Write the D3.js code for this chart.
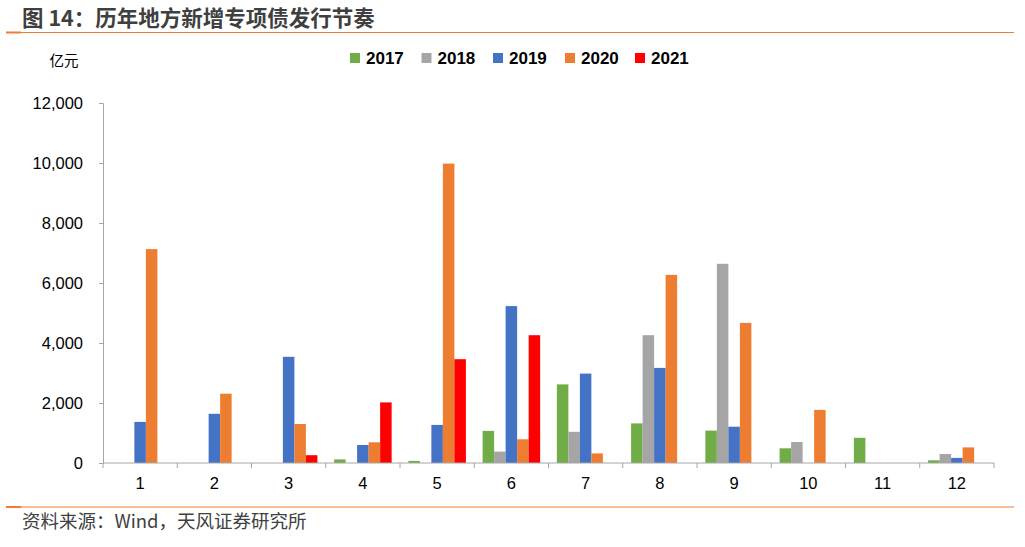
<!DOCTYPE html>
<html>
<head>
<meta charset="utf-8">
<script src="https://cdn.jsdelivr.net/npm/d3@7"></script>
<style>
  body { margin: 0; background: #fff; }
</style>
</head>
<body>
<script>
// months and yearly series (亿元)
const months = ["1","2","3","4","5","6","7","8","9","10","11","12"]
const years = ["2017","2018","2019","2020","2021"]
const colors = ["#70AD47","#A5A5A5","#4472C4","#ED7D31","#FF0000"]

const v2017 = [0, 0, 0, 120, 70, 1070, 2620, 1320, 1080, 490, 840, 90]
const v2018 = [0, 0, 0, 0, 0, 380, 1040, 4260, 6640, 700, 0, 300]
const v2019 = [1370, 1640, 3540, 600, 1270, 5230, 2980, 3170, 1210, 0, 0, 170]
const v2020 = [7130, 2310, 1300, 690, 9980, 790, 320, 6270, 4670, 1770, 0, 520]
const v2021 = [0, 0, 260, 2020, 3460, 4260, 0, 0, 0, 0, 0, 0]
const series = [v2017, v2018, v2019, v2020, v2021]

const yTicks = [0, 2000, 4000, 6000, 8000, 10000, 12000]

const W = 1025, H = 547
const plotL = 103, plotR = 994, plotT = 103, plotB = 463

let svg = d3.select("body")
  .append("svg")
    .attr("width", W)
    .attr("height", H)

// title and rules
svg.append("text")
    .attr("x", 22)
    .attr("y", 26)
    .attr("font-family", "Noto Sans CJK SC")
    .attr("font-weight", "bold")
    .attr("font-size", 21.5)
    .attr("fill", "#3f3f3f")
    .text("图 14：历年地方新增专项债发行节奏")

for (let yy of [32.5, 507]) {
  svg.append("line")
      .attr("x1", 6).attr("x2", 1014)
      .attr("y1", yy).attr("y2", yy)
      .attr("stroke", "#ED7D31")
      .attr("stroke-width", 1)
  svg.append("line")
      .attr("x1", 6).attr("x2", 21)
      .attr("y1", yy).attr("y2", yy)
      .attr("stroke", "#ED7D31")
      .attr("stroke-width", 2)
}

svg.append("text")
    .attr("x", 22)
    .attr("y", 528)
    .attr("font-family", "Noto Sans CJK SC")
    .attr("font-size", 18.5)
    .attr("fill", "#404040")
    .text("资料来源：Wind，天风证券研究所")

// scales
let x0 = d3.scaleBand().domain(months).range([plotL, plotR]).padding(0)
let gap = x0.bandwidth() * 0.225
let x1 = d3.scaleBand().domain(years).range([gap/2, x0.bandwidth() - gap/2])
let y = d3.scaleLinear().domain([0, 12000]).range([plotB, plotT])

// y axis
let yAxis = svg.append("g")
    .attr("transform", `translate(${plotL},0)`)
    .call(d3.axisLeft(y).tickValues(yTicks).tickSize(4).tickPadding(16)
      .tickFormat(d3.format(",")))
yAxis.select(".domain").attr("stroke", "#a6a6a6")
yAxis.selectAll(".tick line").attr("stroke", "#a6a6a6")
yAxis.selectAll(".tick text")
    .attr("font-family", "Liberation Sans, Arial")
    .attr("font-size", 16.5)
    .attr("fill", "#000")

svg.append("text")
    .attr("x", 64)
    .attr("y", 66)
    .attr("text-anchor", "middle")
    .attr("font-family", "Noto Sans CJK SC")
    .attr("font-size", 14.5)
    .attr("fill", "#000")
    .text("亿元")

// bars
let groups = svg.append("g").attr("id", "bars")
for (let s = 0; s < series.length; s++) {
  groups.append("g")
    .selectAll("rect")
    .data(series[s])
    .join("rect")
      .attr("x", (d, i) => x0(months[i]) + x1(years[s]))
      .attr("width", x1.bandwidth())
      .attr("y", d => y(d))
      .attr("height", d => plotB - y(d))
      .attr("fill", colors[s])
}

// x axis
svg.append("line")
    .attr("x1", plotL).attr("x2", plotR)
    .attr("y1", plotB).attr("y2", plotB)
    .attr("stroke", "#a6a6a6")
let bounds = months.map(m => x0(m)).concat([plotR])
svg.append("g").selectAll("line")
  .data(bounds)
  .join("line")
    .attr("x1", d => d).attr("x2", d => d)
    .attr("y1", plotB).attr("y2", plotB + 5)
    .attr("stroke", "#a6a6a6")
svg.append("g").selectAll("text")
  .data(months)
  .join("text")
    .attr("x", d => x0(d) + x0.bandwidth()/2)
    .attr("y", 489)
    .attr("text-anchor", "middle")
    .attr("font-family", "Liberation Sans, Arial")
    .attr("font-size", 16.5)
    .attr("fill", "#000")
    .text(d => d)

// legend
let legendX = [350, 421.5, 493, 565, 635]
let legend = svg.append("g")
for (let i = 0; i < years.length; i++) {
  legend.append("rect")
      .attr("x", legendX[i])
      .attr("y", 53)
      .attr("width", 10)
      .attr("height", 10)
      .attr("fill", colors[i])
  legend.append("text")
      .attr("x", legendX[i] + 16)
      .attr("y", 64)
      .attr("font-family", "Liberation Sans, Arial")
      .attr("font-weight", "bold")
      .attr("font-size", 17)
      .attr("fill", "#000")
      .text(years[i])
}
</script>
</body>
</html>
